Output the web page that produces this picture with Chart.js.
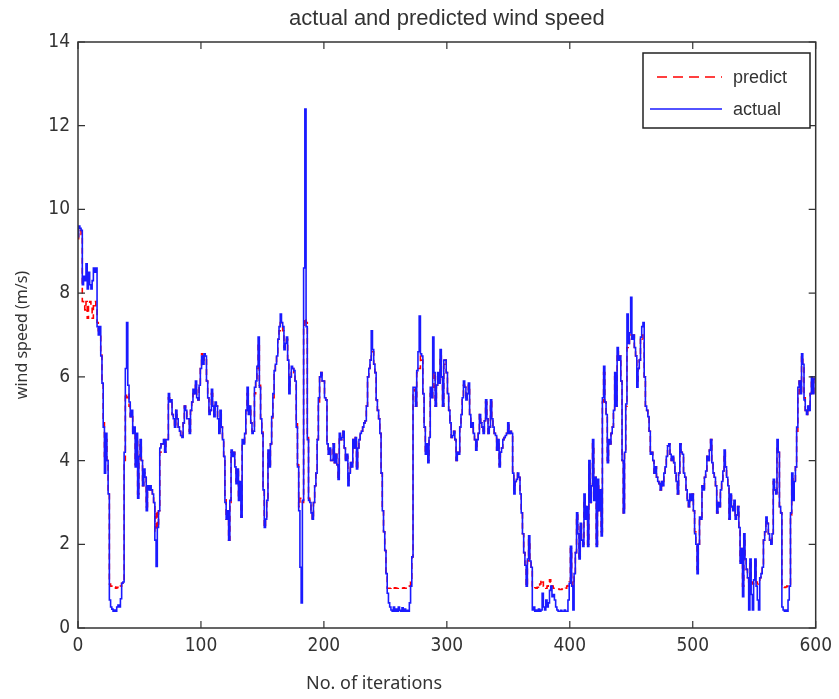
<!DOCTYPE html>
<html>
<head>
<meta charset="utf-8">
<script src="https://cdn.jsdelivr.net/npm/chart.js@4.4.1/dist/chart.umd.min.js"></script>
<style>
  body { margin: 0; background: #fff; }
  #wrap { width: 839px; height: 699px; }
</style>
</head>
<body>
<div id="wrap"><canvas id="chart" width="839" height="699"></canvas></div>
<script>
// wind speed values, one per iteration (0..600)
const actual = [
  9.35, 9.6, 9.55, 9.5, 8.2, 8.4, 8.3, 8.7, 8.1, 8.5,
  8.2, 8.1, 8.3, 8.6, 8.5, 8.6, 7.2, 7.0, 7.2, 6.5,
  5.85, 4.8, 3.7, 4.65, 4.0, 3.2, 0.67, 0.5, 0.45, 0.4,
  0.43, 0.4, 0.5, 0.55, 0.5, 0.7, 1.07, 1.1, 4.2, 6.2,
  7.3, 5.8, 5.4, 5.05, 5.2, 4.65, 4.8, 3.85, 4.65, 3.1,
  4.1, 4.5, 4.0, 3.4, 3.8, 3.6, 2.8, 3.4, 3.3, 3.4,
  3.3, 3.2, 3.0, 2.1, 1.47, 2.4, 2.8, 4.3, 4.4, 4.4,
  4.5, 4.2, 4.5, 4.5, 5.6, 5.4, 5.45, 5.1, 5.0, 4.8,
  5.2, 5.0, 4.8, 4.7, 4.6, 4.55, 4.9, 5.3, 5.2, 5.0,
  5.0, 4.65, 5.2, 5.4, 5.7, 5.6, 5.9, 5.5, 5.45, 5.8,
  6.2, 6.5, 6.3, 6.55, 6.5, 5.9, 5.5, 5.1, 5.2, 5.7,
  5.3, 5.05, 5.4, 5.3, 5.0, 4.65, 5.2, 4.8, 4.5, 4.1,
  3.0, 2.6, 2.8, 2.1, 3.05, 4.25, 4.1, 4.2, 3.85, 3.45,
  3.8, 3.05, 3.5, 2.65, 4.5, 4.4, 4.65, 5.2, 5.75, 5.1,
  5.3, 4.9, 4.65, 4.7, 5.75, 5.9, 6.25, 6.95, 5.75, 5.0,
  4.65, 3.3, 2.4, 2.6, 3.05, 4.25, 3.85, 4.4, 5.05, 5.6,
  6.15, 6.3, 6.5, 6.9, 7.2, 7.5, 7.3, 7.2, 6.65, 6.8,
  6.95, 6.4, 5.6, 6.0, 6.25, 6.2, 6.15, 5.9, 4.8, 3.85,
  2.8, 1.45, 0.6, 3.05, 8.6, 12.4, 7.2, 4.5, 3.05, 3.0,
  2.75, 2.6, 3.0, 3.4, 3.7, 4.5, 5.5, 6.0, 6.1, 5.9,
  5.9, 5.5, 5.45, 4.4, 4.15, 4.3, 4.0, 4.0, 4.4, 3.95,
  4.15, 3.9, 3.55, 4.65, 4.5, 4.55, 4.7, 4.3, 4.0, 4.15,
  3.4, 3.7, 3.95, 3.85, 4.5, 4.3, 4.55, 3.8, 4.3, 4.5,
  4.65, 4.7, 4.8, 4.9, 4.95, 5.3, 6.0, 6.2, 6.4, 7.1,
  6.65, 6.3, 6.1, 5.45, 5.2, 5.0, 4.65, 3.7, 2.8, 2.3,
  1.85, 1.3, 0.83, 0.6, 0.5, 0.43, 0.4, 0.5, 0.4, 0.45,
  0.4, 0.5, 0.42, 0.4, 0.48, 0.4, 0.45, 0.4, 0.42, 0.4,
  0.6, 1.0, 1.7, 5.75, 5.75, 5.3, 6.15, 6.6, 7.45, 6.55,
  6.5, 5.6, 4.8, 4.15, 4.4, 3.95, 4.55, 5.75, 5.5, 6.95,
  6.1, 5.3, 5.8, 6.1, 5.85, 6.65, 6.0, 5.3, 6.4, 6.4,
  6.1, 5.6, 5.2, 4.9, 4.55, 4.6, 4.7, 4.5, 4.0, 4.2,
  4.15, 4.8, 5.1, 5.5, 5.9, 5.75, 5.45, 5.6, 5.85, 5.1,
  4.8, 4.9, 4.65, 4.5, 4.25, 4.5, 4.65, 5.1, 4.9, 4.8,
  4.65, 4.95, 5.45, 5.0, 4.65, 4.8, 5.45, 5.0, 4.8, 4.65,
  4.6, 4.25, 4.5, 3.85, 4.2, 4.3, 4.5, 4.55, 4.6, 4.65,
  4.9, 4.65, 4.7, 4.65, 3.7, 3.2, 3.5, 3.55, 3.7, 3.6,
  3.2, 2.75, 2.25, 1.8, 1.5, 1.0, 1.65, 2.2, 1.6, 1.45,
  0.43, 0.5, 0.4, 0.43, 0.4, 0.45, 0.4, 0.43, 0.83, 0.5,
  0.43, 0.67, 0.5, 0.6, 0.9, 1.0, 0.75, 0.8, 0.67, 0.5,
  0.43, 0.4, 0.4, 0.42, 0.4, 0.4, 0.43, 0.4, 0.4, 0.67,
  1.07, 1.95, 1.0, 0.43, 1.3, 1.8, 2.75, 2.25, 1.65, 2.5,
  2.1, 1.95, 3.2, 2.6, 2.9, 1.95, 4.0, 3.0, 3.4, 4.5,
  3.05, 3.6, 1.95, 3.55, 2.8, 3.3, 2.2, 5.5, 6.25, 5.4,
  5.1, 3.95, 4.5, 4.4, 4.65, 4.8, 5.2, 6.1, 5.3, 6.7,
  6.4, 6.5, 5.9, 4.0, 2.75, 4.2, 5.35, 7.5, 6.8, 7.05,
  7.9, 6.9, 7.0, 6.7, 6.5, 5.75, 6.2, 6.4, 6.95, 7.2,
  7.3, 6.0, 5.3, 5.2, 5.05, 4.7, 4.15, 4.2, 4.0, 3.7,
  3.85, 3.6, 3.5, 3.45, 3.3, 3.5, 3.4, 3.7, 3.85, 4.1,
  4.35, 4.4, 4.15, 4.0, 4.1, 3.95, 3.7, 3.5, 3.2, 3.7,
  4.4, 4.2, 4.15, 3.7, 3.6, 3.3, 3.05, 2.9, 3.2, 3.05,
  3.2, 2.8, 2.25, 2.0, 1.3, 2.0, 2.65, 2.6, 3.4, 3.3,
  3.6, 3.75, 4.1, 4.0, 4.25, 4.5, 3.95, 3.7, 3.6, 3.4,
  2.75, 3.0, 2.9, 3.3, 3.5, 3.75, 4.25, 3.85, 3.6, 3.4,
  2.6, 3.2, 2.9, 2.8, 3.05, 2.6, 2.7, 2.9, 2.4, 1.55,
  1.9, 0.75, 2.25, 1.65, 1.4, 1.2, 0.43, 1.65, 0.8, 0.43,
  1.15, 1.65, 1.0, 0.67, 0.43, 1.2, 1.3, 1.45, 2.1, 2.3,
  2.65, 2.5, 2.25, 2.1, 2.0, 2.25, 3.55, 3.3, 3.2, 4.5,
  4.2, 2.9, 2.75, 0.5, 0.43, 0.4, 0.43, 0.4, 0.67, 1.0,
  2.75, 3.7, 3.05, 3.5, 3.85, 4.8, 5.75, 5.9, 5.6, 6.55,
  6.3, 5.45, 5.2, 5.1, 5.3, 5.2, 5.6, 6.0, 5.6, 5.95,
  6.0
];

const predict = [
  9.3, 9.5, 9.5, 9.4, 7.8, 7.7, 7.6, 7.8, 7.4, 7.7,
  7.8, 7.7, 7.4, 7.7, 7.8, 7.7, 7.3, 7.1, 7.0, 6.6,
  5.9, 4.9, 4.1, 4.5, 4.0, 3.2, 1.05, 1.0, 0.98, 0.97,
  0.98, 0.95, 0.97, 0.96, 0.95, 1.0, 1.07, 1.1, 4.0, 5.6,
  5.5, 5.6, 5.3, 5.05, 5.1, 4.7, 4.7, 3.9, 4.5, 3.2,
  4.0, 4.4, 4.0, 3.4, 3.7, 3.6, 2.9, 3.3, 3.3, 3.4,
  3.3, 3.2, 3.0, 2.3, 2.8, 2.4, 2.8, 4.2, 4.4, 4.4,
  4.5, 4.2, 4.5, 4.5, 5.5, 5.4, 5.4, 5.1, 5.0, 4.8,
  5.2, 5.0, 4.8, 4.7, 4.6, 4.55, 4.9, 5.3, 5.2, 5.0,
  5.0, 4.7, 5.2, 5.4, 5.6, 5.6, 5.8, 5.5, 5.45, 5.8,
  6.2, 6.55, 6.4, 6.5, 6.5, 5.9, 5.5, 5.1, 5.2, 5.6,
  5.3, 5.1, 5.4, 5.3, 5.0, 4.7, 5.1, 4.8, 4.5, 4.1,
  3.1, 2.6, 2.8, 2.1, 3.0, 4.2, 4.1, 4.2, 3.9, 3.5,
  3.8, 3.1, 3.5, 2.65, 4.4, 4.4, 4.6, 5.2, 5.6, 5.2,
  5.3, 4.9, 4.7, 4.7, 5.6, 5.9, 6.2, 6.8, 5.8, 5.0,
  4.7, 3.3, 2.4, 2.6, 3.0, 4.2, 3.9, 4.4, 5.0, 5.5,
  6.1, 6.3, 6.5, 6.9, 7.1, 7.3, 7.2, 7.1, 6.7, 6.8,
  6.9, 6.4, 5.7, 6.0, 6.2, 6.2, 6.1, 5.9, 4.9, 3.9,
  2.9, 3.1, 3.1, 3.0, 7.2, 7.4, 7.3, 4.6, 3.1, 3.0,
  2.8, 2.6, 3.0, 3.4, 3.7, 4.5, 5.4, 6.0, 6.1, 5.9,
  5.9, 5.5, 5.45, 4.4, 4.15, 4.3, 4.0, 4.0, 4.4, 3.95,
  4.15, 3.9, 3.6, 4.6, 4.5, 4.55, 4.7, 4.3, 4.0, 4.1,
  3.5, 3.7, 3.95, 3.85, 4.5, 4.3, 4.55, 3.8, 4.3, 4.5,
  4.65, 4.7, 4.8, 4.9, 4.95, 5.3, 6.0, 6.2, 6.4, 6.6,
  6.6, 6.3, 6.1, 5.45, 5.2, 5.0, 4.65, 3.7, 2.8, 2.3,
  1.85, 1.3, 0.95, 0.95, 0.95, 0.97, 0.95, 0.95, 0.96, 0.95,
  0.95, 0.96, 0.95, 0.95, 0.95, 0.96, 0.95, 0.95, 0.95, 0.96,
  1.0, 1.1, 1.7, 5.6, 5.7, 5.3, 6.1, 6.2, 6.2, 6.5,
  6.4, 5.6, 4.8, 4.2, 4.4, 4.0, 4.5, 5.6, 5.5, 5.75,
  6.1, 5.3, 5.8, 6.0, 5.85, 6.5, 6.0, 5.3, 6.3, 6.4,
  6.1, 5.6, 5.2, 4.9, 4.55, 4.6, 4.7, 4.5, 4.0, 4.2,
  4.15, 4.8, 5.1, 5.5, 5.8, 5.75, 5.45, 5.6, 5.8, 5.1,
  4.8, 4.9, 4.65, 4.5, 4.25, 4.5, 4.65, 5.1, 4.9, 4.8,
  4.65, 4.95, 5.4, 5.0, 4.65, 4.8, 5.4, 5.0, 4.8, 4.65,
  4.6, 4.25, 4.5, 3.9, 4.2, 4.3, 4.5, 4.55, 4.6, 4.65,
  4.85, 4.65, 4.7, 4.65, 3.7, 3.3, 3.5, 3.55, 3.7, 3.6,
  3.2, 2.75, 2.25, 1.8, 1.5, 1.0, 1.6, 2.1, 1.6, 1.4,
  0.95, 0.95, 0.96, 0.95, 0.97, 0.95, 1.05, 1.15, 1.1, 1.0,
  0.97, 0.95, 1.0, 1.1, 1.15, 1.1, 1.0, 0.95, 0.95, 0.93,
  0.93, 0.93, 0.92, 0.92, 0.93, 0.93, 0.92, 0.95, 1.0, 1.05,
  1.1, 1.9, 1.1, 1.0, 1.3, 1.8, 2.7, 2.3, 1.7, 2.5,
  2.1, 2.0, 3.1, 2.6, 2.9, 2.0, 3.9, 3.0, 3.4, 4.4,
  3.1, 3.6, 2.0, 3.5, 2.8, 3.3, 2.3, 5.4, 6.1, 5.4,
  5.1, 4.0, 4.5, 4.4, 4.65, 4.8, 5.2, 6.0, 5.3, 6.6,
  6.4, 6.5, 5.9, 4.0, 2.75, 4.2, 5.3, 6.7, 6.8, 6.9,
  7.0, 6.9, 7.0, 6.7, 6.5, 5.8, 6.2, 6.4, 6.9, 7.0,
  6.9, 6.0, 5.3, 5.2, 5.05, 4.7, 4.15, 4.2, 4.0, 3.7,
  3.85, 3.6, 3.5, 3.45, 3.3, 3.5, 3.4, 3.7, 3.85, 4.1,
  4.35, 4.4, 4.15, 4.0, 4.1, 3.95, 3.7, 3.5, 3.2, 3.7,
  4.4, 4.2, 4.15, 3.7, 3.6, 3.3, 3.05, 2.9, 3.2, 3.05,
  3.2, 2.8, 2.3, 2.0, 1.4, 2.0, 2.6, 2.6, 3.4, 3.3,
  3.6, 3.75, 4.1, 4.0, 4.25, 4.5, 3.95, 3.7, 3.6, 3.4,
  2.75, 3.0, 2.9, 3.3, 3.5, 3.75, 4.2, 3.85, 3.6, 3.4,
  2.6, 3.2, 2.9, 2.8, 3.05, 2.6, 2.7, 2.9, 2.4, 1.6,
  1.9, 1.0, 2.2, 1.7, 1.4, 1.2, 1.1, 1.6, 1.1, 1.05,
  1.15, 1.6, 1.1, 1.05, 1.1, 1.2, 1.3, 1.45, 2.1, 2.3,
  2.6, 2.5, 2.25, 2.1, 2.0, 2.25, 3.5, 3.3, 3.2, 4.4,
  4.2, 2.9, 2.75, 1.0, 0.98, 0.97, 0.98, 1.0, 1.0, 1.05,
  2.7, 3.6, 3.1, 3.5, 3.85, 4.7, 5.6, 5.9, 5.6, 6.5,
  6.3, 5.5, 5.2, 5.1, 5.3, 5.2, 5.6, 6.0, 5.6, 5.95,
  6.0
];

const iterations = actual.map((_, i) => i);
const xTicks = [0, 100, 200, 300, 400, 500, 600];
const yTicks = [0, 2, 4, 6, 8, 10, 12, 14];

const titleText = "actual and predicted wind speed";
const xTitle = "No. of iterations";
const yTitle = "wind speed (m/s)";

const axisColor = "#333333";

// matlab-ish frame, inward ticks, titles and legend box
const matlabLook = {
    id: "matlabLook",
    afterDatasetsDraw(chart) {
        const {ctx, chartArea: {left, right, top, bottom}, scales: {x, y}} = chart;
        ctx.save();
        ctx.strokeStyle = axisColor;
        ctx.lineWidth = 1.5;
        ctx.strokeRect(left, top, right - left, bottom - top);

        ctx.lineWidth = 1.2;
        ctx.beginPath();
        xTicks.forEach(v => {
            const px = x.getPixelForValue(v);
            ctx.moveTo(px, bottom); ctx.lineTo(px, bottom - 7);
            ctx.moveTo(px, top); ctx.lineTo(px, top + 7);
        });
        yTicks.forEach(v => {
            const py = y.getPixelForValue(v);
            ctx.moveTo(left, py); ctx.lineTo(left + 7, py);
            ctx.moveTo(right, py); ctx.lineTo(right - 7, py);
        });
        ctx.stroke();

        // titles
        ctx.fillStyle = "#333";
        ctx.textAlign = "center";
        ctx.textBaseline = "middle";
        ctx.font = "22px 'Liberation Sans', Arial, sans-serif";
        ctx.fillText(titleText, (left + right) / 2, 19);

        ctx.font = "18px 'Noto Sans', sans-serif";
        ctx.fillText(xTitle, 374, 684);

        ctx.save();
        ctx.translate(22, 335);
        ctx.rotate(-Math.PI / 2);
        ctx.font = "16px 'Noto Sans', sans-serif";
        ctx.fillText(yTitle, 0, 0);
        ctx.restore();

        // legend
        const lx = 643, ly = 53, lw = 167, lh = 75;
        ctx.fillStyle = "#fff";
        ctx.fillRect(lx, ly, lw, lh);
        ctx.strokeStyle = "#222";
        ctx.lineWidth = 1.5;
        ctx.strokeRect(lx, ly, lw, lh);

        ctx.lineWidth = 1.5;
        ctx.strokeStyle = "#ff0000";
        ctx.setLineDash([10, 6]);
        ctx.beginPath();
        ctx.moveTo(657, 77); ctx.lineTo(722, 77);
        ctx.stroke();
        ctx.setLineDash([]);
        ctx.strokeStyle = "#1a1aff";
        ctx.beginPath();
        ctx.moveTo(650, 109); ctx.lineTo(722, 109);
        ctx.stroke();

        ctx.fillStyle = "#333";
        ctx.textAlign = "left";
        ctx.font = "18px 'Liberation Sans', Arial, sans-serif";
        ctx.fillText("predict", 733, 78);
        ctx.fillText("actual", 733, 110);
        ctx.restore();
    }
};

new Chart(document.getElementById("chart").getContext("2d"), {
    type: "line",
    data: {
        datasets: [
            {
                label: "predict",
                data: iterations.map(i => ({x: i, y: predict[i]})),
                borderColor: "#ff0000",
                borderWidth: 1.6,
                borderDash: [6, 4],
                pointRadius: 0,
                stepped: "middle",
                order: 1,
            },
            {
                label: "actual",
                data: iterations.map(i => ({x: i, y: actual[i]})),
                borderColor: "#1a1aff",
                borderWidth: 1.6,
                pointRadius: 0,
                stepped: "middle",
                order: 0,
            },
        ],
    },
    options: {
        responsive: false,
        animation: false,
        layout: {padding: {top: 42, left: 0, right: 18, bottom: 0}},
        plugins: {legend: {display: false}, tooltip: {enabled: false}},
        scales: {
            x: {
                type: "linear",
                min: 0, max: 600,
                grid: {display: false, drawTicks: false},
                border: {display: false},
                afterBuildTicks: s => { s.ticks = xTicks.map(v => ({value: v})); },
                afterFit: s => { s.height = 71; },
                ticks: {
                    padding: 7,
                    color: "#333",
                    maxRotation: 0,
                    font: {family: "'DejaVu Sans Condensed', 'Liberation Sans', sans-serif", size: 19},
                },
            },
            y: {
                min: 0, max: 14,
                grid: {display: false, drawTicks: false},
                border: {display: false},
                afterBuildTicks: s => { s.ticks = yTicks.map(v => ({value: v})); },
                afterFit: s => { s.width = 78; },
                ticks: {
                    padding: 8,
                    color: "#333",
                    font: {family: "'DejaVu Sans Condensed', 'Liberation Sans', sans-serif", size: 19},
                },
            },
        },
    },
    plugins: [matlabLook],
});
</script>
</body>
</html>
